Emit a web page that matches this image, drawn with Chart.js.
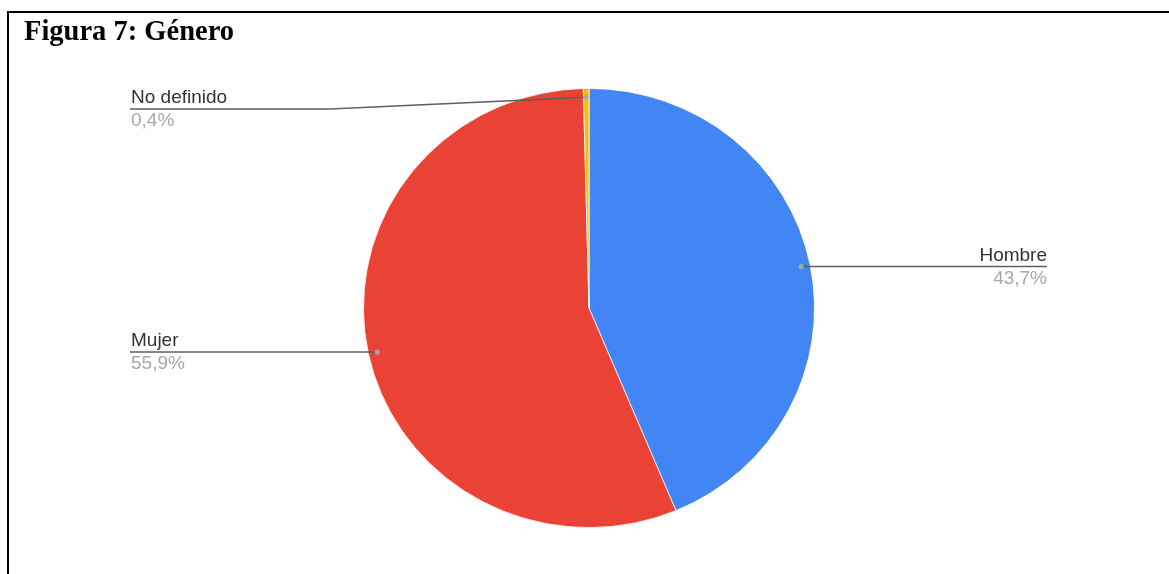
<!DOCTYPE html>
<html lang="es">
<head>
<meta charset="utf-8">
<title>Figura 7: Género</title>
<script src="https://cdn.jsdelivr.net/npm/chart.js@4/dist/chart.umd.min.js"></script>
<style>
  html, body { margin: 0; padding: 0; background: #ffffff; }
  body { width: 1169px; height: 574px; position: relative; overflow: hidden; }
  #frame {
    position: absolute; left: 7px; top: 11px; right: -10px; bottom: -10px;
    border-left: 2px solid #000; border-top: 2px solid #000;
  }
  #title {
    position: absolute; left: 24px; top: 15px;
    font-family: "Liberation Serif", "Times New Roman", serif;
    font-weight: bold; font-size: 28.5px; color: #000; white-space: nowrap;
  }
  #wrap { position: absolute; left: 0; top: 0; width: 1169px; height: 574px; }
</style>
</head>
<body>
<div id="wrap"><canvas id="chart" width="1169" height="574"></canvas></div>
<div id="frame"></div>
<div id="title">Figura 7: Género</div>
<script>
// Share of respondents by gender (percent)
const categories = ['Hombre', 'Mujer', 'No definido'];
const shares = [43.7, 55.9, 0.4];
const sliceColors = ['#4285F4', '#EA4335', '#FBBC04'];

// Where each callout label sits
const calloutLayout = [
  { side: 'right', textX: 1047 },
  { side: 'left',  textX: 131 },
  { side: 'left',  textX: 131, lineY: 109, elbowX: 330 }
];

// The pie is drawn slightly wider than tall
const X_STRETCH = 1.027;

const fmtPct = v => v.toFixed(1).replace('.', ',') + '%';

const stretchPlugin = {
  id: 'stretch',
  beforeDatasetsDraw(chart) {
    const arc = chart.getDatasetMeta(0).data[0];
    const ctx = chart.ctx;
    ctx.save();
    ctx.translate(arc.x, arc.y);
    ctx.scale(X_STRETCH, 1);
    ctx.translate(-arc.x, -arc.y);
  },
  afterDatasetsDraw(chart) {
    chart.ctx.restore();
  }
};

const calloutPlugin = {
  id: 'callouts',
  afterDraw(chart) {
    const ctx = chart.ctx;
    const meta = chart.getDatasetMeta(0);
    meta.data.forEach((arc, i) => {
      const p = arc.getProps(['x', 'y', 'startAngle', 'endAngle', 'outerRadius'], true);
      const mid = (p.startAngle + p.endAngle) / 2;
      const r = p.outerRadius * 0.96;
      const ax = p.x + Math.cos(mid) * r * X_STRETCH;
      const ay = p.y + Math.sin(mid) * r;
      const lay = calloutLayout[i];
      const ly = lay.lineY !== undefined ? lay.lineY : ay;

      // leader line
      ctx.save();
      ctx.strokeStyle = '#5f5f5f';
      ctx.lineWidth = 1.4;
      ctx.beginPath();
      ctx.moveTo(lay.side === 'right' ? lay.textX : lay.textX - 1, ly);
      if (lay.elbowX !== undefined) ctx.lineTo(lay.elbowX, ly);
      ctx.lineTo(ax, ay);
      ctx.stroke();

      // anchor dot
      ctx.fillStyle = 'rgba(170,170,170,0.9)';
      ctx.beginPath();
      ctx.arc(ax, ay, 2.6, 0, Math.PI * 2);
      ctx.fill();

      // texts
      ctx.textAlign = lay.side === 'right' ? 'right' : 'left';
      ctx.textBaseline = 'alphabetic';
      ctx.font = '19px "Liberation Sans", Arial, sans-serif';
      ctx.fillStyle = '#333333';
      ctx.fillText(categories[i], lay.textX, ly - 6);
      ctx.fillStyle = '#a8a8a8';
      ctx.fillText(fmtPct(shares[i]), lay.textX, ly + 17);
      ctx.restore();
    });
  }
};

new Chart(document.getElementById('chart'), {
  type: 'pie',
  data: {
    labels: categories,
    datasets: [{
      data: shares,
      backgroundColor: sliceColors,
      borderColor: '#ffffff',
      borderWidth: 0.8
    }]
  },
  options: {
    responsive: false,
    animation: false,
    layout: { padding: { top: 88, bottom: 46, left: 300, right: 291 } },
    plugins: {
      legend: { display: false },
      tooltip: { enabled: false }
    }
  },
  plugins: [stretchPlugin, calloutPlugin]
});
</script>
</body>
</html>
